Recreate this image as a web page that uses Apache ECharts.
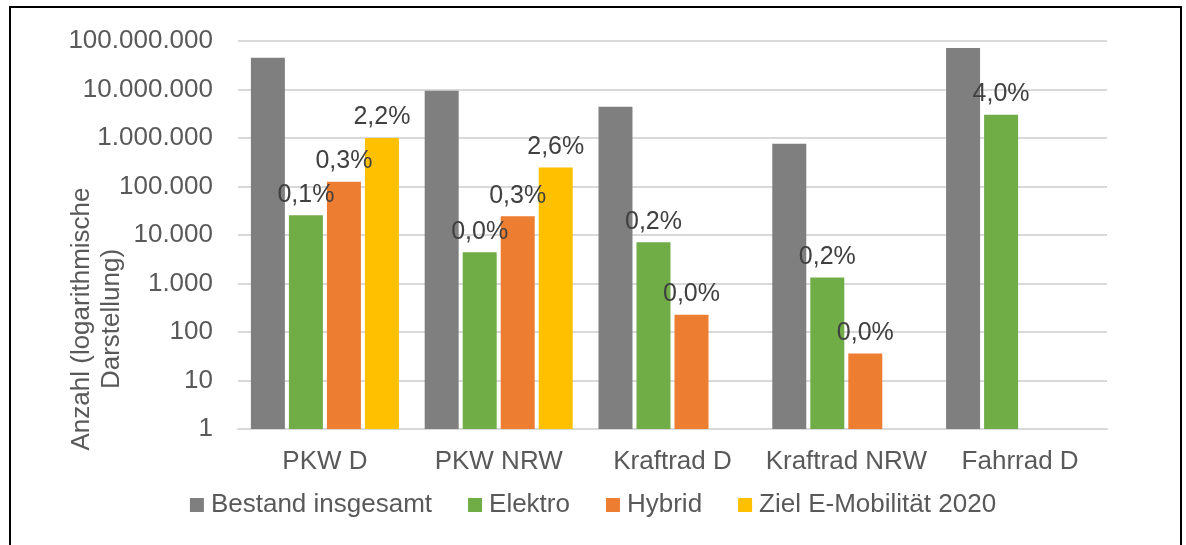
<!DOCTYPE html>
<html>
<head>
<meta charset="utf-8">
<script src="https://cdn.jsdelivr.net/npm/echarts@6/dist/echarts.min.js"></script>
<style>
  html, body { margin: 0; padding: 0; background: #fff; overflow: hidden; }
  #frame { position: absolute; left: 9px; top: 6px; width: 1169px; height: 600px; border: 2px solid #000; box-sizing: content-box; }
  #chart { position: absolute; left: 0; top: 0; width: 1186px; height: 545px; }
</style>
</head>
<body>
<div id="frame"></div>
<div id="chart"></div>
<script>
const categories = ['PKW D', 'PKW NRW', 'Kraftrad D', 'Kraftrad NRW', 'Fahrrad D'];
const seriesNames = ['Bestand insgesamt', 'Elektro', 'Hybrid', 'Ziel E-Mobilität 2020'];
const bestand = [45000000, 9400000, 4400000, 760000, 72000000];
const elektro = [25500, 4400, 7100, 1330, 3000000];
const hybrid = [125000, 24400, 228, 36, null];
const ziel = [1000000, 247000, null, null, null];
const elektroLabels = ['0,1%', '0,0%', '0,2%', '0,2%', '4,0%'];
const hybridLabels = ['0,3%', '0,3%', '0,0%', '0,0%', ''];
const zielLabels = ['2,2%', '2,6%', '', '', ''];
const yTickLabels = ['1', '10', '100', '1.000', '10.000', '100.000', '1.000.000', '10.000.000', '100.000.000'];
const yAxisTitle = ['Anzahl (logarithmische', 'Darstellung)'];

const colors = ['#7f7f7f', '#70ad47', '#ed7d31', '#ffc000'];
const FONT = '"Liberation Sans", Arial, sans-serif';

function labelled(labels) {
  return {
    show: true, position: 'top', distance: 8,
    color: '#404040', fontSize: 25, fontFamily: FONT,
    formatter: p => labels[p.dataIndex] || ''
  };
}

const chart = echarts.init(document.getElementById('chart'), null, { renderer: 'canvas' });
chart.setOption({
  animation: false,
  textStyle: { fontFamily: FONT },
  grid: { left: 238, right: 79, top: 41, bottom: 116, containLabel: false },
  legend: {
    data: seriesNames,
    left: 'center', top: 487,
    icon: 'rect', itemWidth: 14, itemHeight: 14, itemGap: 36,
    textStyle: { color: '#595959', fontSize: 26, fontFamily: FONT, padding: [0, 0, 0, 2] }
  },
  xAxis: {
    type: 'category', data: categories,
    axisLine: { lineStyle: { color: '#d9d9d9', width: 2 } },
    axisTick: { show: false },
    axisLabel: { color: '#595959', fontSize: 26, fontFamily: FONT, margin: 20, interval: 0, hideOverlap: false }
  },
  yAxis: {
    type: 'log', logBase: 10, min: 1, max: 100000000,
    axisLine: { show: false }, axisTick: { show: false },
    splitLine: { lineStyle: { color: '#d9d9d9', width: 2 } },
    axisLabel: {
      color: '#595959', fontSize: 26, fontFamily: FONT, margin: 25,
      formatter: v => yTickLabels[Math.round(Math.log10(v))]
    }
  },
  graphic: [{
    type: 'text', x: 97, y: 319, rotation: Math.PI / 2,
    style: {
      text: yAxisTitle.join('\n'), fill: '#595959', font: '26px ' + FONT,
      textAlign: 'center', textVerticalAlign: 'middle', lineHeight: 30
    }
  }],
  series: [
    { name: seriesNames[0], type: 'bar', data: bestand, barWidth: 34, barGap: '11.8%', itemStyle: { color: colors[0] } },
    { name: seriesNames[1], type: 'bar', data: elektro, barWidth: 34, barGap: '11.8%', itemStyle: { color: colors[1] }, label: labelled(elektroLabels) },
    { name: seriesNames[2], type: 'bar', data: hybrid, barWidth: 34, barGap: '11.8%', itemStyle: { color: colors[2] }, label: labelled(hybridLabels) },
    { name: seriesNames[3], type: 'bar', data: ziel, barWidth: 34, barGap: '11.8%', itemStyle: { color: colors[3] }, label: labelled(zielLabels) }
  ]
});
</script>
</body>
</html>
